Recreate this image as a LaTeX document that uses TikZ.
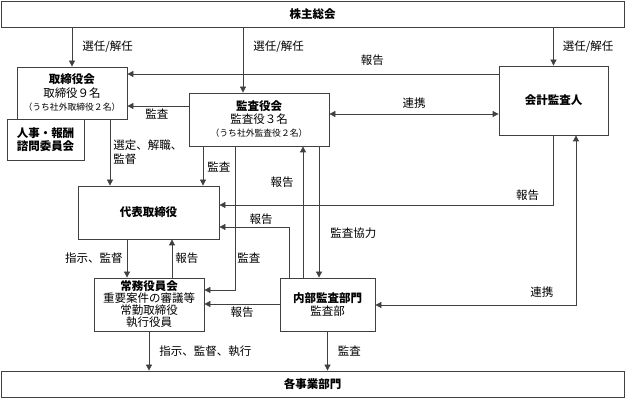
\documentclass[tikz,border=0pt]{standalone}
\usepackage{fontspec}
\setmainfont{Noto Sans CJK JP}
\usetikzlibrary{arrows.meta,positioning}

\begin{document}
\begin{tikzpicture}[x=1pt,y=-1pt,
	>={Triangle[length=6pt,width=6pt]},
	box/.style={draw=black!75, line width=0.8pt, inner sep=0pt, align=center, font=\fontsize{11.5}{13}\selectfont},
	lbl/.style={inner sep=1pt, align=left, font=\fontsize{11.5}{14}\selectfont},
	arr/.style={draw=black!75, line width=0.8pt, ->},
	biarr/.style={draw=black!75, line width=0.8pt, <->}]
	\useasboundingbox (0,0) rectangle (625,398);
	% boxes
	\node [box, minimum width=623pt, minimum height=26pt] (kabu) at (312.5,14) {\bfseries 株主総会};
	\node [box, minimum width=110pt, minimum height=52pt] (tori) at (72,93) {{\bfseries 取締役会}\\[1pt]取締役９名\\{\fontsize{8.8}{10}\selectfont （うち社外取締役２名）}};
	\node [box, minimum width=77pt, minimum height=41pt] (jinji) at (45.5,139.5) {\bfseries 人事・報酬\\\bfseries 諮問委員会};
	\node [box, minimum width=140pt, minimum height=53pt] (kansa) at (259,119.5) {{\bfseries 監査役会}\\監査役３名\\{\fontsize{8.8}{10}\selectfont （うち社外監査役２名）}};
	\node [box, minimum width=109pt, minimum height=69pt] (kaikei) at (553.5,100.5) {\bfseries 会計監査人};
	\node [box, minimum width=141pt, minimum height=53pt] (daihyo) at (148.5,212.5) {\bfseries 代表取締役};
	\node [box, minimum width=110pt, minimum height=53pt, font=\fontsize{11.5}{12}\selectfont] (jomu) at (149,304.5) {{\bfseries 常務役員会}\\重要案件の審議等\\常勤取締役\\執行役員};
	\node [box, minimum width=95pt, minimum height=53pt] (naibu) at (327.5,304.5) {{\bfseries 内部監査部門}\\監査部};
	\node [box, minimum width=623pt, minimum height=26pt] (kaku) at (312.5,384) {\bfseries 各事業部門};
	% from shareholders
	\draw [arr] (kabu.south -| tori) -- (tori.north) node [lbl, midway, right=9pt] (l1) {選任/解任};
	\draw [arr] (kabu.south -| 243,0) -- (kansa.north -| 243,0) node [lbl, pos=0.3, right=9pt] (l2) {選任/解任};
	\draw [arr] (kabu.south -| kaikei) -- (kaikei.north) node [lbl, midway, right=8pt] (l3) {選任/解任};
	% board level
	\draw [arr] (kaikei.west |- 0,74) -- (tori.east |- 0,74) node [lbl, pos=0.34, above=7pt] (l4) {報告};
	\draw [arr] (kansa.west |- 0,106) -- (tori.east |- 0,106) node [lbl, pos=0.52, below=1pt] (l5) {監査};
	\draw [biarr] (kansa.east |- 0,114) -- (kaikei.west |- 0,114) node [lbl, midway, above=4pt] (l6) {連携};
	\draw [arr] (tori.south -| 110,0) -- (daihyo.north -| 110,0) node [lbl, midway, right=2pt] (l7) {選定、解職、\\監督};
	\draw [arr] (kansa.south -| 203,0) -- (daihyo.north -| 203,0) node [lbl, pos=0.52, right=3pt] (l8) {監査};
	\draw [arr] (kansa.south -| 235,0) |- (jomu.east |- 0,290) node [lbl, pos=0.39, right=1pt] (l9) {監査};
	\draw [arr] (naibu.north -| 303,0) -- (kansa.south -| 303,0) node [lbl, pos=0.73, left=8pt] (l10) {報告};
	\draw [arr] (kansa.south -| 319,0) -- (naibu.north -| 319,0) node [lbl, pos=0.66, right=10pt] (l11) {監査協力};
	\draw [arr] (kaikei.south) |- (daihyo.east |- 0,205) node [lbl, pos=0.5, above left=3pt and 13pt] (l12) {報告};
	\draw [arr] (naibu.north -| 289,0) |- (daihyo.east |- 0,227) node [lbl, pos=0.7, above=1pt] (l13) {報告};
	\draw [biarr] (naibu.east |- 0,305) -| (kaikei.south -| 576,0) node [lbl, pos=0.415, above=6pt] (l14) {連携};
	% executive level
	\draw [arr] (daihyo.south -| 127,0) -- (jomu.north -| 127,0) node [lbl, midway, left=3pt] (l15) {指示、監督};
	\draw [arr] (jomu.north -| 172,0) -- (daihyo.south -| 172,0) node [lbl, midway, right=2pt] (l16) {報告};
	\draw [arr] (naibu.west |- 0,304) -- (jomu.east |- 0,304) node [lbl, midway, below=1pt] (l17) {報告};
	\draw [arr] (jomu.south) -- (kaku.north -| jomu) node [lbl, midway, right=9pt] (l18) {指示、監督、執行};
	\draw [arr] (naibu.south) -- (kaku.north -| naibu) node [lbl, midway, right=9pt] (l19) {監査};
\end{tikzpicture}
\end{document}
